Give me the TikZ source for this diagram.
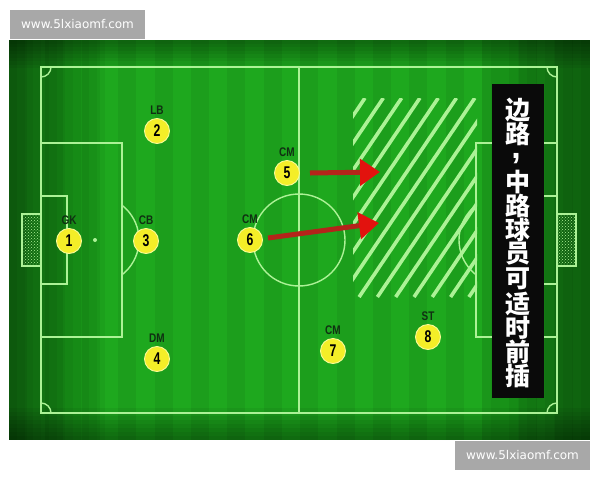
\documentclass[tikz,border=0pt]{standalone}
\usepackage{fontspec}
\setmainfont{DejaVu Sans}
\newfontfamily\cjkfont{Noto Sans CJK SC}
\newfontfamily\numfont[FakeStretch=0.72]{Liberation Sans}
\newfontfamily\lblfont[FakeStretch=0.8]{Liberation Sans}
\newfontfamily\commafont{Liberation Sans}
\usetikzlibrary{arrows.meta,patterns}
\definecolor{grassmid}{RGB}{30,168,30}
\definecolor{fieldline}{RGB}{172,242,150}
\definecolor{plyellow}{RGB}{244,238,40}
\definecolor{plring}{RGB}{250,250,150}
\definecolor{lbldark}{RGB}{16,48,18}
\definecolor{arrowshaft}{RGB}{180,36,26}
\definecolor{arrowhead}{RGB}{226,18,14}
\definecolor{wmgray}{RGB}{168,168,168}
\tikzset{
  fl/.style={draw=fieldline,line width=2pt},
  flthin/.style={draw=fieldline,line width=1.4pt},
  player/.style={circle,fill=plyellow,draw=plring,line width=0.9pt,minimum size=25pt,inner sep=0pt,
    font=\numfont\bfseries\fontsize{17}{17}\selectfont,text=black},
  lbl/.style={inner sep=0pt,font=\lblfont\bfseries\fontsize{12.5}{12.5}\selectfont,text=lbldark},
  runarrow/.style={draw=arrowshaft,line width=5pt,-{Triangle[length=20pt,width=26pt,fill=arrowhead,color=arrowhead]}},
  watermark/.style={fill=wmgray,text=white,minimum width=135pt,minimum height=29pt,inner sep=0pt,
    font=\fontsize{12}{12}\selectfont},
  cjkchar/.style={text=white,inner sep=0pt,font=\cjkfont\bfseries\fontsize{25}{25}\selectfont}
}
\begin{document}
\begin{tikzpicture}[x=1pt,y=-1pt]
\useasboundingbox (0,0) rectangle (600,480);
\fill[white] (0,0) rectangle (600,480);
% grass
\fill[grassmid] (9,40) rectangle (590,440);
\foreach \k in {1,...,12} {
  \fill[black,opacity=0.045] (9,40) rectangle ({9+\k*8},440);
  \fill[black,opacity=0.045] (590,40) rectangle ({590-\k*9},440);
}
\foreach \i in {0,...,15} {
  \fill[black,opacity=0.06] ({9+\i*36.4},40) rectangle ++(18,400);
}
\foreach \k in {1,...,8} {
  \fill[black,opacity=0.05] (9,40) rectangle (590,{40+\k*3.5});
  \fill[black,opacity=0.05] (9,440) rectangle (590,{440-\k*4});
}
% hatched area
\begin{scope}
  \clip (353,98) rectangle (477,297);
  \foreach \k in {-1,...,14} {
    \draw[fieldline,line width=3.6pt] ({365+18.3*\k},98) -- ({365+18.3*\k-134},297);
  }
\end{scope}
% field lines
\draw[fl] (41,67) rectangle (557,413);
\draw[fl] (299,67) -- (299,413);
\draw[flthin] (299,240) circle (46);
\draw[fl] (41,143) rectangle (122,337);
\draw[fl] (41,196) rectangle (67,284);
\draw[fl] (476,143) rectangle (557,337);
\draw[fl] (531,196) rectangle (557,284);
\draw[flthin,pattern=crosshatch dots,pattern color=fieldline] (22,214) rectangle (41,266);
\draw[flthin,pattern=crosshatch dots,pattern color=fieldline] (557,214) rectangle (576,266);
\fill[fieldline] (95,240) circle (2);
\begin{scope}
  \clip (122,60) rectangle (200,420);
  \draw[flthin] (95,240) circle (44);
\end{scope}
\begin{scope}
  \clip (400,60) rectangle (476,420);
  \draw[flthin] (503,240) circle (44);
\end{scope}
\begin{scope}
  \clip (41,67) rectangle (557,413);
  \draw[flthin] (41,67) circle (10);
  \draw[flthin] (557,67) circle (10);
  \draw[flthin] (41,413) circle (10);
  \draw[flthin] (557,413) circle (10);
\end{scope}
% players
\node[player,label={[lbl,label distance=3pt]above:GK}] (p1) at (69,241) {1};
\node[player,label={[lbl,label distance=3pt]above:LB}] (p2) at (157,131) {2};
\node[player,label={[lbl,label distance=3pt]above:CB}] (p3) at (146,241) {3};
\node[player,label={[lbl,label distance=3pt]above:DM}] (p4) at (157,359) {4};
\node[player,label={[lbl,label distance=3pt]above:CM}] (p5) at (287,173) {5};
\node[player,label={[lbl,label distance=3pt]above:CM}] (p6) at (250,240) {6};
\node[player,label={[lbl,label distance=3pt]above:CM}] (p7) at (333,351) {7};
\node[player,label={[lbl,label distance=3pt]above:ST}] (p8) at (428,337) {8};
% arrows
\coordinate (a5s) at (310,173);
\coordinate (a5e) at (380,172);
\coordinate (a6s) at (268,238);
\coordinate (a6e) at (379,223);
\draw[runarrow] (a5s) -- (a5e);
\draw[runarrow] (a6s) -- (a6e);
% black text box
\fill[black!96] (492,84) rectangle (544,398);
\node[cjkchar] (c1) at (518,110) {边};
\node[cjkchar] (c2) at (518,134) {路};
\node[anchor=base,text=white,inner sep=0pt,font=\commafont\bfseries\fontsize{34}{34}\selectfont] (c3) at (516,158) {,};
\node[cjkchar] (c4) at (518,182) {中};
\node[cjkchar] (c5) at (518,206) {路};
\node[cjkchar] (c6) at (518,230) {球};
\node[cjkchar] (c7) at (518,254) {员};
\node[cjkchar] (c8) at (518,279) {可};
\node[cjkchar] (c9) at (518,304) {适};
\node[cjkchar] (c10) at (518,328) {时};
\node[cjkchar] (c11) at (518,352) {前};
\node[cjkchar] (c12) at (518,376) {插};
% watermarks
\node[watermark] (wm1) at (77.5,24.5) {www.5lxiaomf.com};
\node[watermark] (wm2) at (522.5,455) {www.5lxiaomf.com};
\end{tikzpicture}
\end{document}
